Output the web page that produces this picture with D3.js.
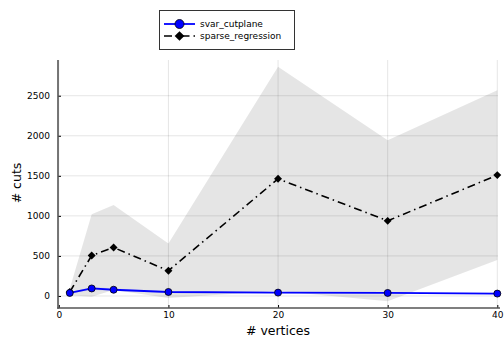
<!DOCTYPE html>
<html>
<head>
<meta charset="utf-8">
<script src="https://cdn.jsdelivr.net/npm/d3@7"></script>
<style>
  html, body { margin: 0; padding: 0; background: #fff; }
  svg { display: block; font-family: "DejaVu Sans", sans-serif; }
</style>
</head>
<body>
<svg id="chart" width="504" height="339"></svg>
<script>
// Number of vertices tested
const vertices = [1, 3, 5, 10, 20, 30, 40];

// Mean number of cuts and spread (std) per method
const svarMean = [38, 94, 78, 50, 42, 38, 30];
const svarStd = [10, 18, 16, 10, 8, 8, 8];
const sparseMean = [50, 505, 605, 315, 1463, 938, 1509];
const sparseStd = [40, 515, 530, 340, 1400, 1005, 1060];

const xTicks = [0, 10, 20, 30, 40];
const yTicks = [0, 500, 1000, 1500, 2000, 2500];

const seriesNames = ["svar_cutplane", "sparse_regression"];

const svg = d3.select("#chart");
const plotLeft = 58, plotRight = 498, plotTop = 60, plotBottom = 308;

const x = d3.scaleLinear().domain([0, 40]).range([plotLeft + 0.8, 497.3]);
const y = d3.scaleLinear().domain([-150, 2946]).range([plotBottom, plotTop]);

// grid
const grid = svg.append("g").attr("stroke", "#000").attr("stroke-opacity", 0.1).attr("stroke-width", 1);
xTicks.forEach(t => grid.append("line").attr("x1", x(t)).attr("x2", x(t)).attr("y1", plotTop).attr("y2", plotBottom));
yTicks.forEach(t => grid.append("line").attr("x1", plotLeft).attr("x2", plotRight).attr("y1", y(t)).attr("y2", y(t)));

const pts = (m, s) => vertices.map((v, i) => ({ x: v, m: m[i], s: s[i] }));
const sparse = pts(sparseMean, sparseStd);
const svar = pts(svarMean, svarStd);

const band = d3.area().x(d => x(d.x)).y0(d => y(d.m - d.s)).y1(d => y(d.m + d.s));
const line = d3.line().x(d => x(d.x)).y(d => y(d.m));

// ribbons
svg.append("path").datum(sparse).attr("d", band).attr("fill", "#000").attr("fill-opacity", 0.1);
svg.append("path").datum(svar).attr("d", band).attr("fill", "#0000ff").attr("fill-opacity", 0.1);

// axes
const xAxis = d3.axisBottom(x).tickValues(xTicks).tickSize(-3).tickPadding(4).tickFormat(d3.format("d"));
const yAxis = d3.axisLeft(y).tickValues(yTicks).tickSize(-3).tickPadding(8).tickFormat(d3.format("d"));

const gx = svg.append("g").attr("transform", `translate(0,${plotBottom})`).call(xAxis);
const gy = svg.append("g").attr("transform", `translate(${plotLeft},0)`).call(yAxis);
[gx, gy].forEach(g => {
  g.select(".domain").remove();
  g.selectAll(".tick line").attr("stroke", "#000").attr("stroke-width", 1);
  g.selectAll(".tick text").attr("font-size", 9).attr("fill", "#000").attr("font-family", "DejaVu Sans, sans-serif");
});
svg.append("line").attr("x1", plotLeft).attr("x2", plotLeft).attr("y1", plotTop).attr("y2", plotBottom + 0.8)
  .attr("stroke", "#555").attr("stroke-width", 1.6);
svg.append("line").attr("x1", plotLeft - 0.8).attr("x2", plotRight + 2).attr("y1", plotBottom).attr("y2", plotBottom)
  .attr("stroke", "#555").attr("stroke-width", 1.6);

// series lines
svg.append("path").datum(sparse).attr("d", line).attr("fill", "none")
  .attr("stroke", "#000").attr("stroke-width", 1.6).attr("stroke-dasharray", "8,4,1.5,4");
svg.append("path").datum(svar).attr("d", line).attr("fill", "none")
  .attr("stroke", "#0000ff").attr("stroke-width", 1.8);

// markers
const diamond = d3.symbol().type(d3.symbolDiamond2).size(40);
svg.append("g").selectAll("path").data(sparse).join("path")
  .attr("transform", d => `translate(${x(d.x)},${y(d.m)})`).attr("d", diamond).attr("fill", "#000");
svg.append("g").selectAll("circle").data(svar).join("circle")
  .attr("cx", d => x(d.x)).attr("cy", d => y(d.m)).attr("r", 3.5)
  .attr("fill", "#0000ff").attr("stroke", "#000").attr("stroke-width", 0.8);

// axis titles
svg.append("text").attr("x", (plotLeft + plotRight) / 2).attr("y", 335).attr("text-anchor", "middle")
  .attr("font-size", 12.5).text("# vertices");
svg.append("text").attr("transform", `translate(21,${(plotTop + plotBottom) / 2 - 1}) rotate(-90)`)
  .attr("text-anchor", "middle").attr("font-size", 12.5).text("# cuts");

// legend
const lg = svg.append("g");
lg.append("rect").attr("x", 159.5).attr("y", 10.5).attr("width", 135).attr("height", 39)
  .attr("fill", "#fff").attr("stroke", "#333").attr("stroke-width", 1);
lg.append("line").attr("x1", 164).attr("x2", 195).attr("y1", 24).attr("y2", 24)
  .attr("stroke", "#0000ff").attr("stroke-width", 1.8);
lg.append("circle").attr("cx", 179.5).attr("cy", 24).attr("r", 4.5)
  .attr("fill", "#0000ff").attr("stroke", "#000").attr("stroke-width", 0.8);
lg.append("line").attr("x1", 164).attr("x2", 195).attr("y1", 36).attr("y2", 36)
  .attr("stroke", "#000").attr("stroke-width", 1.6).attr("stroke-dasharray", "8,4,1.5,4");
lg.append("path").attr("transform", "translate(179.5,36)").attr("d", d3.symbol().type(d3.symbolDiamond2).size(60)).attr("fill", "#000");
seriesNames.forEach((n, i) => lg.append("text").attr("x", 200).attr("y", 27 + i * 12)
  .attr("font-size", 9).text(n));
</script>
</body>
</html>
